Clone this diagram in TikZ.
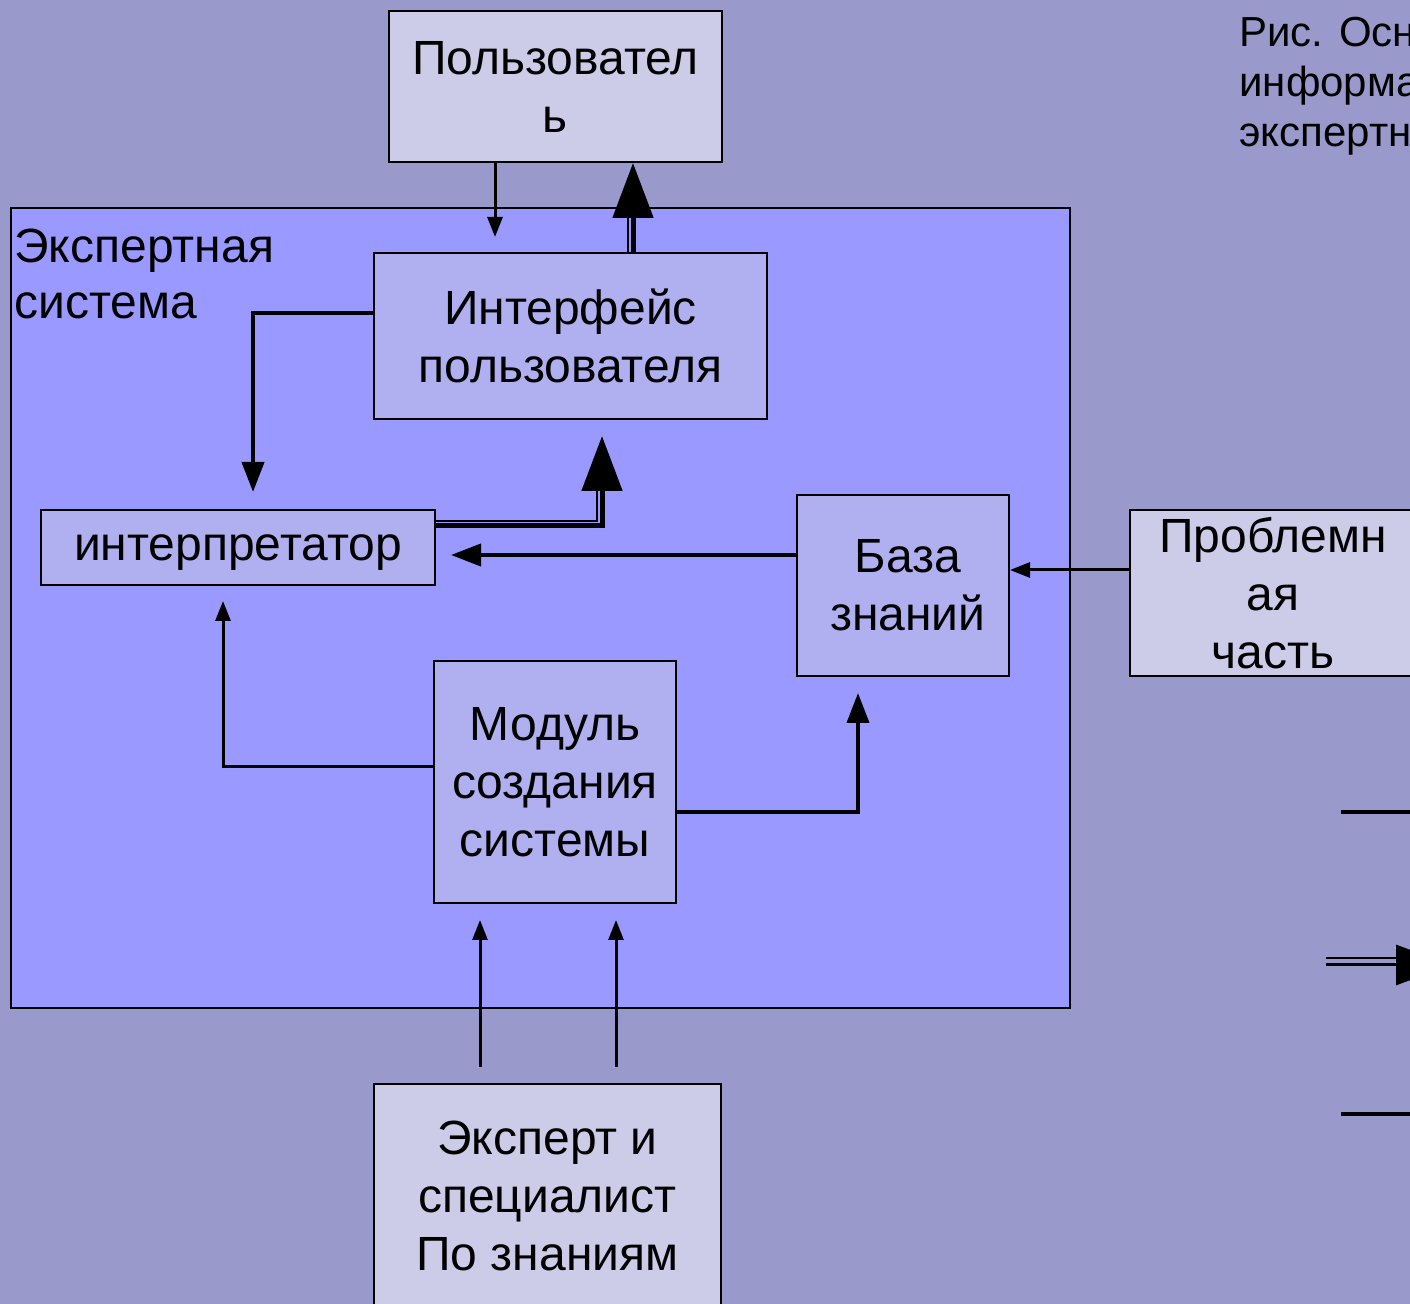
\documentclass[tikz,border=0pt]{standalone}
\usepackage{fontspec}
\setmainfont{Liberation Sans}
\usepackage{xcolor}
\usetikzlibrary{positioning, arrows.meta}

\definecolor{slidebg}{HTML}{9999CC}
\definecolor{esfill}{HTML}{9999FF}
\definecolor{innerfill}{HTML}{B0B0F0}
\definecolor{outerfill}{HTML}{CCCCE8}

\begin{document}
\begin{tikzpicture}[
    x=0.5pt, y=-0.5pt,
    every node/.style={font=\fontsize{24}{29}\selectfont, inner sep=0pt},
    box/.style={rectangle, draw, line width=1pt, align=center},
    inbox/.style={box, fill=innerfill},
    outbox/.style={box, fill=outerfill},
    thinarrow/.style={-{Triangle[length=10pt, width=7.5pt]}, line width=1.5pt},
    thickarrow/.style={-{Triangle[length=15pt, width=11pt]}, line width=2pt},
    bigarrow/.style={-{Triangle[length=27.5pt, width=20pt]}, line width=2.5pt},
    thinline/.style={line width=1pt},
]
    \useasboundingbox (0,0) rectangle (1410,1304);
    \fill[slidebg] (0,0) rectangle (1410,1304);

    % --- expert system frame ---
    \node[box, fill=esfill, minimum width=529.5pt, minimum height=400pt] (es) at (540.5,608) {};
    \node[anchor=north west, align=left, font=\fontsize{24}{28}\selectfont] (eslabel) at (14,229) {Экспертная\\система};

    % --- boxes ---
    \node[outbox, minimum width=166.5pt, minimum height=75.5pt] (user) at (555.5,86.5) {Пользовател\\ь};
    \node[inbox, minimum width=196.5pt, minimum height=83pt] (ui) at (570.5,336) {Интерфейс\\пользователя};
    \node[inbox, minimum width=197pt, minimum height=37.5pt, text depth=0pt] (interp) at (238,547.5) {интерпретатор};
    \node[inbox, minimum width=106pt, minimum height=90.5pt] (kb) at (903,585.5) {\hspace{5pt}База\\\hspace{5pt}знаний};
    \node[outbox, minimum width=143pt, minimum height=83pt] (prob) at (1273,593) {Проблемн\\ая\\часть};
    \node[inbox, minimum width=121pt, minimum height=121pt] (mod) at (555,782) {Модуль\\создания\\системы};
    \node[outbox, minimum width=173.5pt, minimum height=112pt] (expert) at (547.5,1196) {Эксперт и\\специалист\\По знаниям};

    % --- caption ---
    \node[anchor=north west, align=left, font=\fontsize{21}{25}\selectfont] (cap) at (1239,17) {Рис. Осн\\информа\\экспертн};

    % --- arrows ---
    \draw[thinarrow, shorten >=7.5pt] ([xshift=-30.25pt]user.south) -- ([xshift=-30.25pt]user.south |- ui.north);
    \draw[thinline, shorten >=27.5pt] ([xshift=28.5pt]ui.north) -- ([xshift=28.5pt]ui.north |- user.south);
    \draw[bigarrow] ([xshift=31.25pt]ui.north) -- ([xshift=31.25pt]ui.north |- user.south);

    \draw[thickarrow, shorten >=8.5pt] ([yshift=11.5pt]ui.west) -| ([xshift=7.5pt]interp.north);

    \draw[thinline, shorten >=35.5pt] ([yshift=13.25pt]interp.east) -| ([xshift=13.25pt]ui.south);
    \draw[bigarrow, shorten >=8pt] ([yshift=10.75pt]interp.east) -| ([xshift=15.75pt]ui.south);

    \draw[thickarrow, shorten >=7.5pt] ([yshift=15.25pt]kb.west) -- ([yshift=15.25pt]kb.west -| interp.east);
    \draw[thinarrow] ([yshift=11.5pt]prob.west) -- ([yshift=11.5pt]prob.west -| kb.east);

    \draw[thinarrow, shorten >=7.5pt] ([yshift=7.5pt]mod.west) -| ([xshift=-7.5pt]interp.south);
    \draw[thickarrow, shorten >=8pt] ([yshift=-15pt]mod.east) -| ([xshift=-22.5pt]kb.south);

    \draw[thinarrow, shorten <=8pt, shorten >=8pt] ([xshift=-33.75pt]expert.north) -- ([xshift=-33.75pt]expert.north |- mod.south);
    \draw[thinarrow, shorten <=8pt, shorten >=8pt] ([xshift=34.25pt]expert.north) -- ([xshift=34.25pt]expert.north |- mod.south);

    % --- legend (cut at the edge) ---
    \coordinate (lega) at (1341,812);
    \coordinate (legb) at (1430,812);
    \coordinate (legc) at (1326,962);
    \coordinate (legd) at (1451,962);
    \coordinate (lege) at (1341,1114);
    \coordinate (legf) at (1430,1114);
    \draw[line width=2pt] (lega) -- (legb);
    \draw[thinline, shorten >=27.5pt] ([yshift=2pt]legc) -- ([yshift=2pt]legd);
    \draw[bigarrow, line width=1.5pt] ([yshift=-1.5pt]legc) -- ([yshift=-1.5pt]legd);
    \draw[line width=2pt] (lege) -- (legf);

\end{tikzpicture}
\end{document}
